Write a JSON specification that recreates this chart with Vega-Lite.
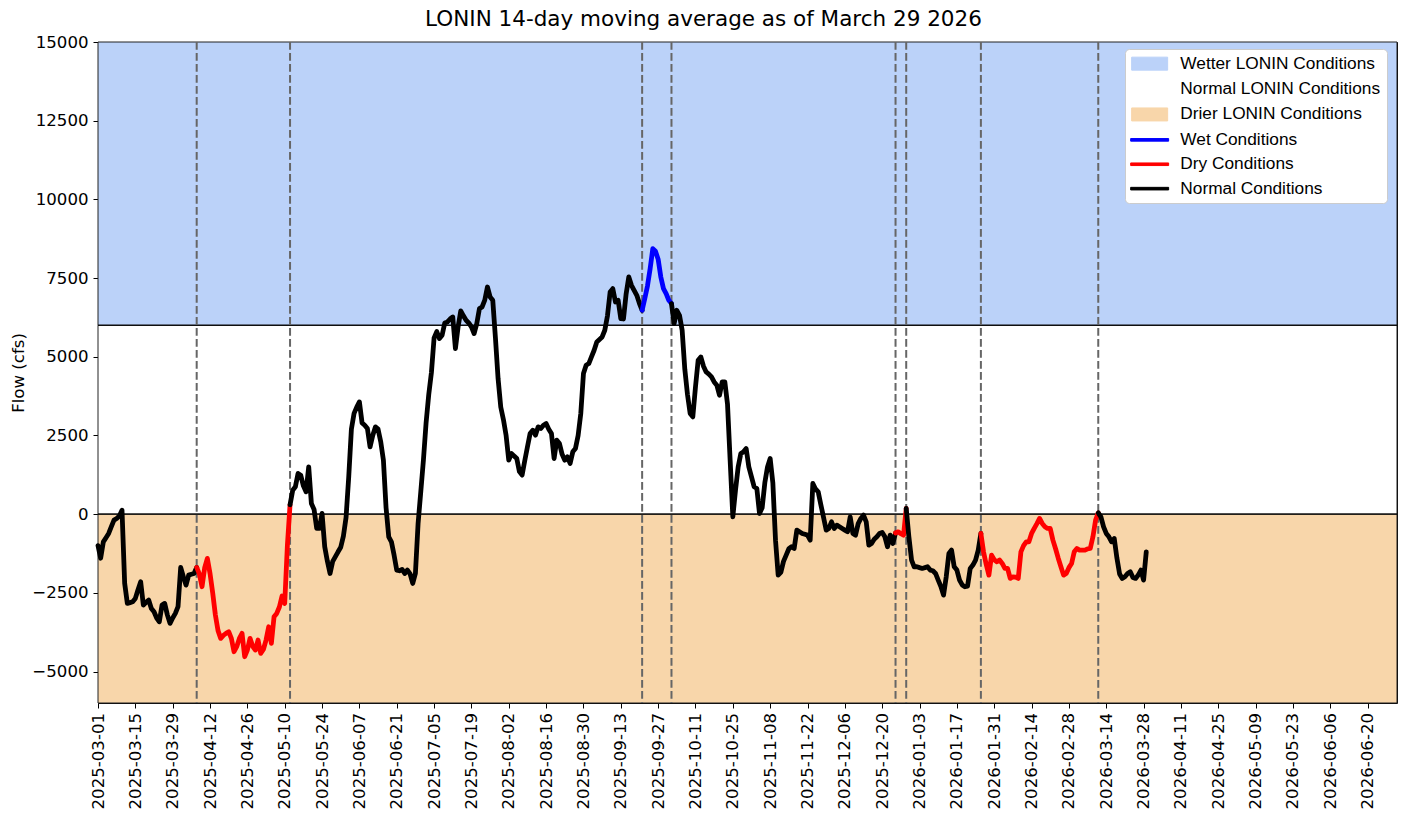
{
  "$schema": "https://vega.github.io/schema/vega-lite/v6.json",
  "width": 1299,
  "height": 661,
  "autosize": {"type": "none"},
  "padding": {"left": 98, "top": 42, "right": 6, "bottom": 112},
  "background": "white",
  "title": {"text": "LONIN 14-day moving average as of March 29 2026", "font": "DejaVu Sans", "fontSize": 21.5, "fontWeight": "normal", "color": "black", "anchor": "middle", "dx": -44, "offset": 4},
  "datasets": {
    "bands": [
      {"label": "Wetter LONIN Conditions", "lo": 6000, "hi": 15000},
      {"label": "Normal LONIN Conditions", "lo": 0, "hi": 6000},
      {"label": "Drier LONIN Conditions", "lo": -6000, "hi": 0}
    ],
    "hlines": [{"y": 0}, {"y": 6000}],
    "vlines": [
      {"date": "2025-04-07"}, {"date": "2025-05-12"}, {"date": "2025-09-21"}, {"date": "2025-10-02"},
      {"date": "2025-12-25"}, {"date": "2025-12-29"}, {"date": "2026-01-26"}, {"date": "2026-03-11"}
    ],
    "segs": [
      {"s": "a", "cond": "Normal Conditions"}, {"s": "b", "cond": "Dry Conditions"}, {"s": "c", "cond": "Normal Conditions"},
      {"s": "d", "cond": "Wet Conditions"}, {"s": "e", "cond": "Normal Conditions"}, {"s": "f", "cond": "Dry Conditions"},
      {"s": "g", "cond": "Normal Conditions"}, {"s": "h", "cond": "Dry Conditions"}, {"s": "i", "cond": "Normal Conditions"}
    ],
    "flow": [
      {"date":"2025-03-01","flow":-1000,"s":"a"},{"date":"2025-03-02","flow":-1400,"s":"a"},{"date":"2025-03-03","flow":-880,"s":"a"},{"date":"2025-03-04","flow":-750,"s":"a"},{"date":"2025-03-05","flow":-614,"s":"a"},{"date":"2025-03-06","flow":-400,"s":"a"},{"date":"2025-03-07","flow":-190,"s":"a"},{"date":"2025-03-08","flow":-137,"s":"a"},{"date":"2025-03-09","flow":-60,"s":"a"},{"date":"2025-03-10","flow":127,"s":"a"},{"date":"2025-03-11","flow":-2200,"s":"a"},{"date":"2025-03-12","flow":-2836,"s":"a"},{"date":"2025-03-13","flow":-2810,"s":"a"},{"date":"2025-03-14","flow":-2783,"s":"a"},{"date":"2025-03-15","flow":-2677,"s":"a"},{"date":"2025-03-16","flow":-2400,"s":"a"},{"date":"2025-03-17","flow":-2148,"s":"a"},{"date":"2025-03-18","flow":-2889,"s":"a"},{"date":"2025-03-19","flow":-2800,"s":"a"},{"date":"2025-03-20","flow":-2730,"s":"a"},{"date":"2025-03-21","flow":-2995,"s":"a"},{"date":"2025-03-22","flow":-3100,"s":"a"},{"date":"2025-03-23","flow":-3300,"s":"a"},{"date":"2025-03-24","flow":-3418,"s":"a"},{"date":"2025-03-25","flow":-2889,"s":"a"},{"date":"2025-03-26","flow":-2836,"s":"a"},{"date":"2025-03-27","flow":-3200,"s":"a"},{"date":"2025-03-28","flow":-3471,"s":"a"},{"date":"2025-03-29","flow":-3300,"s":"a"},{"date":"2025-03-30","flow":-3154,"s":"a"},{"date":"2025-03-31","flow":-2941,"s":"a"},{"date":"2025-04-01","flow":-1693,"s":"a"},{"date":"2025-04-02","flow":-1990,"s":"a"},{"date":"2025-04-03","flow":-2254,"s":"a"},{"date":"2025-04-04","flow":-1937,"s":"a"},{"date":"2025-04-05","flow":-1910,"s":"a"},{"date":"2025-04-06","flow":-1885,"s":"a"},{"date":"2025-04-07","flow":-1693,"s":"a"},
      {"date":"2025-04-07","flow":-1693,"s":"b"},{"date":"2025-04-08","flow":-1900,"s":"b"},{"date":"2025-04-09","flow":-2307,"s":"b"},{"date":"2025-04-10","flow":-1700,"s":"b"},{"date":"2025-04-11","flow":-1407,"s":"b"},{"date":"2025-04-12","flow":-1885,"s":"b"},{"date":"2025-04-13","flow":-2500,"s":"b"},{"date":"2025-04-14","flow":-3200,"s":"b"},{"date":"2025-04-15","flow":-3700,"s":"b"},{"date":"2025-04-16","flow":-3947,"s":"b"},{"date":"2025-04-17","flow":-3850,"s":"b"},{"date":"2025-04-18","flow":-3788,"s":"b"},{"date":"2025-04-19","flow":-3735,"s":"b"},{"date":"2025-04-20","flow":-3947,"s":"b"},{"date":"2025-04-21","flow":-4371,"s":"b"},{"date":"2025-04-22","flow":-4212,"s":"b"},{"date":"2025-04-23","flow":-3950,"s":"b"},{"date":"2025-04-24","flow":-3788,"s":"b"},{"date":"2025-04-25","flow":-4530,"s":"b"},{"date":"2025-04-26","flow":-4318,"s":"b"},{"date":"2025-04-27","flow":-3947,"s":"b"},{"date":"2025-04-28","flow":-4200,"s":"b"},{"date":"2025-04-29","flow":-4318,"s":"b"},{"date":"2025-04-30","flow":-4000,"s":"b"},{"date":"2025-05-01","flow":-4424,"s":"b"},{"date":"2025-05-02","flow":-4300,"s":"b"},{"date":"2025-05-03","flow":-4000,"s":"b"},{"date":"2025-05-04","flow":-3578,"s":"b"},{"date":"2025-05-05","flow":-4106,"s":"b"},{"date":"2025-05-06","flow":-3260,"s":"b"},{"date":"2025-05-07","flow":-3154,"s":"b"},{"date":"2025-05-08","flow":-2950,"s":"b"},{"date":"2025-05-09","flow":-2600,"s":"b"},{"date":"2025-05-10","flow":-2836,"s":"b"},{"date":"2025-05-11","flow":-1000,"s":"b"},{"date":"2025-05-12","flow":300,"s":"b"},
      {"date":"2025-05-12","flow":300,"s":"c"},{"date":"2025-05-13","flow":760,"s":"c"},{"date":"2025-05-14","flow":868,"s":"c"},{"date":"2025-05-15","flow":1292,"s":"c"},{"date":"2025-05-16","flow":1238,"s":"c"},{"date":"2025-05-17","flow":900,"s":"c"},{"date":"2025-05-18","flow":709,"s":"c"},{"date":"2025-05-19","flow":1503,"s":"c"},{"date":"2025-05-20","flow":339,"s":"c"},{"date":"2025-05-21","flow":150,"s":"c"},{"date":"2025-05-22","flow":-455,"s":"c"},{"date":"2025-05-23","flow":-455,"s":"c"},{"date":"2025-05-24","flow":21,"s":"c"},{"date":"2025-05-25","flow":-1037,"s":"c"},{"date":"2025-05-26","flow":-1500,"s":"c"},{"date":"2025-05-27","flow":-1885,"s":"c"},{"date":"2025-05-28","flow":-1500,"s":"c"},{"date":"2025-05-29","flow":-1350,"s":"c"},{"date":"2025-05-30","flow":-1196,"s":"c"},{"date":"2025-05-31","flow":-1050,"s":"c"},{"date":"2025-06-01","flow":-700,"s":"c"},{"date":"2025-06-02","flow":-100,"s":"c"},{"date":"2025-06-03","flow":1185,"s":"c"},{"date":"2025-06-04","flow":2700,"s":"c"},{"date":"2025-06-05","flow":3200,"s":"c"},{"date":"2025-06-06","flow":3400,"s":"c"},{"date":"2025-06-07","flow":3566,"s":"c"},{"date":"2025-06-08","flow":2900,"s":"c"},{"date":"2025-06-09","flow":2826,"s":"c"},{"date":"2025-06-10","flow":2720,"s":"c"},{"date":"2025-06-11","flow":2138,"s":"c"},{"date":"2025-06-12","flow":2500,"s":"c"},{"date":"2025-06-13","flow":2773,"s":"c"},{"date":"2025-06-14","flow":2700,"s":"c"},{"date":"2025-06-15","flow":2300,"s":"c"},{"date":"2025-06-16","flow":1715,"s":"c"},{"date":"2025-06-17","flow":200,"s":"c"},{"date":"2025-06-18","flow":-720,"s":"c"},{"date":"2025-06-19","flow":-879,"s":"c"},{"date":"2025-06-20","flow":-1300,"s":"c"},{"date":"2025-06-21","flow":-1778,"s":"c"},{"date":"2025-06-22","flow":-1800,"s":"c"},{"date":"2025-06-23","flow":-1757,"s":"c"},{"date":"2025-06-24","flow":-1885,"s":"c"},{"date":"2025-06-25","flow":-1778,"s":"c"},{"date":"2025-06-26","flow":-1900,"s":"c"},{"date":"2025-06-27","flow":-2201,"s":"c"},{"date":"2025-06-28","flow":-1885,"s":"c"},{"date":"2025-06-29","flow":-300,"s":"c"},{"date":"2025-06-30","flow":700,"s":"c"},{"date":"2025-07-01","flow":1715,"s":"c"},{"date":"2025-07-02","flow":2900,"s":"c"},{"date":"2025-07-03","flow":3800,"s":"c"},{"date":"2025-07-04","flow":4500,"s":"c"},{"date":"2025-07-05","flow":5600,"s":"c"},{"date":"2025-07-06","flow":5800,"s":"c"},{"date":"2025-07-07","flow":5577,"s":"c"},{"date":"2025-07-08","flow":5683,"s":"c"},{"date":"2025-07-09","flow":6074,"s":"c"},{"date":"2025-07-10","flow":6106,"s":"c"},{"date":"2025-07-11","flow":6200,"s":"c"},{"date":"2025-07-12","flow":6265,"s":"c"},{"date":"2025-07-13","flow":5260,"s":"c"},{"date":"2025-07-14","flow":5947,"s":"c"},{"date":"2025-07-15","flow":6455,"s":"c"},{"date":"2025-07-16","flow":6300,"s":"c"},{"date":"2025-07-17","flow":6159,"s":"c"},{"date":"2025-07-18","flow":6074,"s":"c"},{"date":"2025-07-19","flow":5947,"s":"c"},{"date":"2025-07-20","flow":5736,"s":"c"},{"date":"2025-07-21","flow":6053,"s":"c"},{"date":"2025-07-22","flow":6529,"s":"c"},{"date":"2025-07-23","flow":6582,"s":"c"},{"date":"2025-07-24","flow":6800,"s":"c"},{"date":"2025-07-25","flow":7217,"s":"c"},{"date":"2025-07-26","flow":6900,"s":"c"},{"date":"2025-07-27","flow":6795,"s":"c"},{"date":"2025-07-28","flow":5600,"s":"c"},{"date":"2025-07-29","flow":4300,"s":"c"},{"date":"2025-07-30","flow":3400,"s":"c"},{"date":"2025-07-31","flow":3000,"s":"c"},{"date":"2025-08-01","flow":2500,"s":"c"},{"date":"2025-08-02","flow":1715,"s":"c"},{"date":"2025-08-03","flow":1926,"s":"c"},{"date":"2025-08-04","flow":1850,"s":"c"},{"date":"2025-08-05","flow":1767,"s":"c"},{"date":"2025-08-06","flow":1350,"s":"c"},{"date":"2025-08-07","flow":1238,"s":"c"},{"date":"2025-08-08","flow":1700,"s":"c"},{"date":"2025-08-09","flow":2138,"s":"c"},{"date":"2025-08-10","flow":2561,"s":"c"},{"date":"2025-08-11","flow":2667,"s":"c"},{"date":"2025-08-12","flow":2508,"s":"c"},{"date":"2025-08-13","flow":2773,"s":"c"},{"date":"2025-08-14","flow":2720,"s":"c"},{"date":"2025-08-15","flow":2826,"s":"c"},{"date":"2025-08-16","flow":2879,"s":"c"},{"date":"2025-08-17","flow":2700,"s":"c"},{"date":"2025-08-18","flow":2561,"s":"c"},{"date":"2025-08-19","flow":1767,"s":"c"},{"date":"2025-08-20","flow":2350,"s":"c"},{"date":"2025-08-21","flow":2244,"s":"c"},{"date":"2025-08-22","flow":1900,"s":"c"},{"date":"2025-08-23","flow":1715,"s":"c"},{"date":"2025-08-24","flow":1820,"s":"c"},{"date":"2025-08-25","flow":1610,"s":"c"},{"date":"2025-08-26","flow":1979,"s":"c"},{"date":"2025-08-27","flow":2085,"s":"c"},{"date":"2025-08-28","flow":2500,"s":"c"},{"date":"2025-08-29","flow":3200,"s":"c"},{"date":"2025-08-30","flow":4467,"s":"c"},{"date":"2025-08-31","flow":4731,"s":"c"},{"date":"2025-09-01","flow":4784,"s":"c"},{"date":"2025-09-02","flow":5000,"s":"c"},{"date":"2025-09-03","flow":5207,"s":"c"},{"date":"2025-09-04","flow":5471,"s":"c"},{"date":"2025-09-05","flow":5550,"s":"c"},{"date":"2025-09-06","flow":5630,"s":"c"},{"date":"2025-09-07","flow":5842,"s":"c"},{"date":"2025-09-08","flow":6300,"s":"c"},{"date":"2025-09-09","flow":7058,"s":"c"},{"date":"2025-09-10","flow":7165,"s":"c"},{"date":"2025-09-11","flow":6741,"s":"c"},{"date":"2025-09-12","flow":6795,"s":"c"},{"date":"2025-09-13","flow":6213,"s":"c"},{"date":"2025-09-14","flow":6200,"s":"c"},{"date":"2025-09-15","flow":7000,"s":"c"},{"date":"2025-09-16","flow":7535,"s":"c"},{"date":"2025-09-17","flow":7271,"s":"c"},{"date":"2025-09-18","flow":7112,"s":"c"},{"date":"2025-09-19","flow":6953,"s":"c"},{"date":"2025-09-20","flow":6689,"s":"c"},{"date":"2025-09-21","flow":6477,"s":"c"},
      {"date":"2025-09-21","flow":6477,"s":"d"},{"date":"2025-09-22","flow":6850,"s":"d"},{"date":"2025-09-23","flow":7250,"s":"d"},{"date":"2025-09-24","flow":7800,"s":"d"},{"date":"2025-09-25","flow":8434,"s":"d"},{"date":"2025-09-26","flow":8350,"s":"d"},{"date":"2025-09-27","flow":8100,"s":"d"},{"date":"2025-09-28","flow":7535,"s":"d"},{"date":"2025-09-29","flow":7165,"s":"d"},{"date":"2025-09-30","flow":7006,"s":"d"},{"date":"2025-10-01","flow":6795,"s":"d"},{"date":"2025-10-02","flow":6689,"s":"d"},
      {"date":"2025-10-02","flow":6689,"s":"e"},{"date":"2025-10-03","flow":6053,"s":"e"},{"date":"2025-10-04","flow":6477,"s":"e"},{"date":"2025-10-05","flow":6318,"s":"e"},{"date":"2025-10-06","flow":5842,"s":"e"},{"date":"2025-10-07","flow":4600,"s":"e"},{"date":"2025-10-08","flow":3800,"s":"e"},{"date":"2025-10-09","flow":3197,"s":"e"},{"date":"2025-10-10","flow":3090,"s":"e"},{"date":"2025-10-11","flow":4043,"s":"e"},{"date":"2025-10-12","flow":4890,"s":"e"},{"date":"2025-10-13","flow":4995,"s":"e"},{"date":"2025-10-14","flow":4700,"s":"e"},{"date":"2025-10-15","flow":4518,"s":"e"},{"date":"2025-10-16","flow":4450,"s":"e"},{"date":"2025-10-17","flow":4360,"s":"e"},{"date":"2025-10-18","flow":4200,"s":"e"},{"date":"2025-10-19","flow":4096,"s":"e"},{"date":"2025-10-20","flow":3778,"s":"e"},{"date":"2025-10-21","flow":4201,"s":"e"},{"date":"2025-10-22","flow":4201,"s":"e"},{"date":"2025-10-23","flow":3500,"s":"e"},{"date":"2025-10-24","flow":1700,"s":"e"},{"date":"2025-10-25","flow":-85,"s":"e"},{"date":"2025-10-26","flow":762,"s":"e"},{"date":"2025-10-27","flow":1500,"s":"e"},{"date":"2025-10-28","flow":1926,"s":"e"},{"date":"2025-10-29","flow":1979,"s":"e"},{"date":"2025-10-30","flow":2085,"s":"e"},{"date":"2025-10-31","flow":1500,"s":"e"},{"date":"2025-11-01","flow":1185,"s":"e"},{"date":"2025-11-02","flow":868,"s":"e"},{"date":"2025-11-03","flow":815,"s":"e"},{"date":"2025-11-04","flow":21,"s":"e"},{"date":"2025-11-05","flow":200,"s":"e"},{"date":"2025-11-06","flow":1000,"s":"e"},{"date":"2025-11-07","flow":1500,"s":"e"},{"date":"2025-11-08","flow":1767,"s":"e"},{"date":"2025-11-09","flow":1000,"s":"e"},{"date":"2025-11-10","flow":-826,"s":"e"},{"date":"2025-11-11","flow":-1937,"s":"e"},{"date":"2025-11-12","flow":-1850,"s":"e"},{"date":"2025-11-13","flow":-1500,"s":"e"},{"date":"2025-11-14","flow":-1300,"s":"e"},{"date":"2025-11-15","flow":-1100,"s":"e"},{"date":"2025-11-16","flow":-1037,"s":"e"},{"date":"2025-11-17","flow":-1090,"s":"e"},{"date":"2025-11-18","flow":-508,"s":"e"},{"date":"2025-11-19","flow":-560,"s":"e"},{"date":"2025-11-20","flow":-614,"s":"e"},{"date":"2025-11-21","flow":-640,"s":"e"},{"date":"2025-11-22","flow":-667,"s":"e"},{"date":"2025-11-23","flow":-826,"s":"e"},{"date":"2025-11-24","flow":974,"s":"e"},{"date":"2025-11-25","flow":800,"s":"e"},{"date":"2025-11-26","flow":709,"s":"e"},{"date":"2025-11-27","flow":300,"s":"e"},{"date":"2025-11-28","flow":-100,"s":"e"},{"date":"2025-11-29","flow":-508,"s":"e"},{"date":"2025-11-30","flow":-455,"s":"e"},{"date":"2025-12-01","flow":-243,"s":"e"},{"date":"2025-12-02","flow":-455,"s":"e"},{"date":"2025-12-03","flow":-349,"s":"e"},{"date":"2025-12-04","flow":-400,"s":"e"},{"date":"2025-12-05","flow":-455,"s":"e"},{"date":"2025-12-06","flow":-508,"s":"e"},{"date":"2025-12-07","flow":-561,"s":"e"},{"date":"2025-12-08","flow":-85,"s":"e"},{"date":"2025-12-09","flow":-614,"s":"e"},{"date":"2025-12-10","flow":-667,"s":"e"},{"date":"2025-12-11","flow":-300,"s":"e"},{"date":"2025-12-12","flow":-137,"s":"e"},{"date":"2025-12-13","flow":-32,"s":"e"},{"date":"2025-12-14","flow":-243,"s":"e"},{"date":"2025-12-15","flow":-984,"s":"e"},{"date":"2025-12-16","flow":-932,"s":"e"},{"date":"2025-12-17","flow":-800,"s":"e"},{"date":"2025-12-18","flow":-720,"s":"e"},{"date":"2025-12-19","flow":-614,"s":"e"},{"date":"2025-12-20","flow":-580,"s":"e"},{"date":"2025-12-21","flow":-720,"s":"e"},{"date":"2025-12-22","flow":-1037,"s":"e"},{"date":"2025-12-23","flow":-667,"s":"e"},{"date":"2025-12-24","flow":-932,"s":"e"},{"date":"2025-12-25","flow":-600,"s":"e"},
      {"date":"2025-12-25","flow":-600,"s":"f"},{"date":"2025-12-26","flow":-561,"s":"f"},{"date":"2025-12-27","flow":-620,"s":"f"},{"date":"2025-12-28","flow":-667,"s":"f"},{"date":"2025-12-29","flow":180,"s":"f"},
      {"date":"2025-12-29","flow":180,"s":"g"},{"date":"2025-12-30","flow":-720,"s":"g"},{"date":"2025-12-31","flow":-1460,"s":"g"},{"date":"2026-01-01","flow":-1672,"s":"g"},{"date":"2026-01-02","flow":-1672,"s":"g"},{"date":"2026-01-03","flow":-1700,"s":"g"},{"date":"2026-01-04","flow":-1725,"s":"g"},{"date":"2026-01-05","flow":-1700,"s":"g"},{"date":"2026-01-06","flow":-1672,"s":"g"},{"date":"2026-01-07","flow":-1778,"s":"g"},{"date":"2026-01-08","flow":-1800,"s":"g"},{"date":"2026-01-09","flow":-1885,"s":"g"},{"date":"2026-01-10","flow":-2096,"s":"g"},{"date":"2026-01-11","flow":-2300,"s":"g"},{"date":"2026-01-12","flow":-2572,"s":"g"},{"date":"2026-01-13","flow":-1990,"s":"g"},{"date":"2026-01-14","flow":-1249,"s":"g"},{"date":"2026-01-15","flow":-1143,"s":"g"},{"date":"2026-01-16","flow":-1672,"s":"g"},{"date":"2026-01-17","flow":-1778,"s":"g"},{"date":"2026-01-18","flow":-2096,"s":"g"},{"date":"2026-01-19","flow":-2250,"s":"g"},{"date":"2026-01-20","flow":-2307,"s":"g"},{"date":"2026-01-21","flow":-2286,"s":"g"},{"date":"2026-01-22","flow":-1725,"s":"g"},{"date":"2026-01-23","flow":-1619,"s":"g"},{"date":"2026-01-24","flow":-1460,"s":"g"},{"date":"2026-01-25","flow":-1143,"s":"g"},{"date":"2026-01-26","flow":-614,"s":"g"},
      {"date":"2026-01-26","flow":-614,"s":"h"},{"date":"2026-01-27","flow":-1200,"s":"h"},{"date":"2026-01-28","flow":-1600,"s":"h"},{"date":"2026-01-29","flow":-1937,"s":"h"},{"date":"2026-01-30","flow":-1302,"s":"h"},{"date":"2026-01-31","flow":-1450,"s":"h"},{"date":"2026-02-01","flow":-1514,"s":"h"},{"date":"2026-02-02","flow":-1460,"s":"h"},{"date":"2026-02-03","flow":-1566,"s":"h"},{"date":"2026-02-04","flow":-1725,"s":"h"},{"date":"2026-02-05","flow":-1725,"s":"h"},{"date":"2026-02-06","flow":-2042,"s":"h"},{"date":"2026-02-07","flow":-1990,"s":"h"},{"date":"2026-02-08","flow":-2000,"s":"h"},{"date":"2026-02-09","flow":-2042,"s":"h"},{"date":"2026-02-10","flow":-1200,"s":"h"},{"date":"2026-02-11","flow":-1000,"s":"h"},{"date":"2026-02-12","flow":-879,"s":"h"},{"date":"2026-02-13","flow":-879,"s":"h"},{"date":"2026-02-14","flow":-614,"s":"h"},{"date":"2026-02-15","flow":-450,"s":"h"},{"date":"2026-02-16","flow":-300,"s":"h"},{"date":"2026-02-17","flow":-137,"s":"h"},{"date":"2026-02-18","flow":-296,"s":"h"},{"date":"2026-02-19","flow":-400,"s":"h"},{"date":"2026-02-20","flow":-455,"s":"h"},{"date":"2026-02-21","flow":-455,"s":"h"},{"date":"2026-02-22","flow":-826,"s":"h"},{"date":"2026-02-23","flow":-1100,"s":"h"},{"date":"2026-02-24","flow":-1400,"s":"h"},{"date":"2026-02-25","flow":-1672,"s":"h"},{"date":"2026-02-26","flow":-1937,"s":"h"},{"date":"2026-02-27","flow":-1885,"s":"h"},{"date":"2026-02-28","flow":-1700,"s":"h"},{"date":"2026-03-01","flow":-1566,"s":"h"},{"date":"2026-03-02","flow":-1196,"s":"h"},{"date":"2026-03-03","flow":-1090,"s":"h"},{"date":"2026-03-04","flow":-1143,"s":"h"},{"date":"2026-03-05","flow":-1143,"s":"h"},{"date":"2026-03-06","flow":-1143,"s":"h"},{"date":"2026-03-07","flow":-1100,"s":"h"},{"date":"2026-03-08","flow":-1090,"s":"h"},{"date":"2026-03-09","flow":-720,"s":"h"},{"date":"2026-03-10","flow":-190,"s":"h"},{"date":"2026-03-11","flow":40,"s":"h"},
      {"date":"2026-03-11","flow":40,"s":"i"},{"date":"2026-03-12","flow":-85,"s":"i"},{"date":"2026-03-13","flow":-402,"s":"i"},{"date":"2026-03-14","flow":-614,"s":"i"},{"date":"2026-03-15","flow":-720,"s":"i"},{"date":"2026-03-16","flow":-879,"s":"i"},{"date":"2026-03-17","flow":-773,"s":"i"},{"date":"2026-03-18","flow":-1400,"s":"i"},{"date":"2026-03-19","flow":-1900,"s":"i"},{"date":"2026-03-20","flow":-2042,"s":"i"},{"date":"2026-03-21","flow":-1990,"s":"i"},{"date":"2026-03-22","flow":-1885,"s":"i"},{"date":"2026-03-23","flow":-1831,"s":"i"},{"date":"2026-03-24","flow":-2011,"s":"i"},{"date":"2026-03-25","flow":-2042,"s":"i"},{"date":"2026-03-26","flow":-1937,"s":"i"},{"date":"2026-03-27","flow":-1778,"s":"i"},{"date":"2026-03-28","flow":-2096,"s":"i"},{"date":"2026-03-29","flow":-1196,"s":"i"}
    ]
  },
  "layer": [
    {
      "data": {"name": "bands"},
      "mark": {"type": "rect", "stroke": {"expr": "datum.value == 'Wet Conditions' ? '#0000ff' : datum.value == 'Dry Conditions' ? '#ff0000' : datum.value == 'Normal Conditions' ? '#000000' : '#222222'"}, "strokeWidth": 1},
      "encoding": {
        "y": {"field": "lo", "type": "quantitative", "scale": {"domain": [-6000, 15000], "nice": false, "zero": false}, "title": "Flow (cfs)"},
        "y2": {"field": "hi"},
        "color": {
          "field": "label", "type": "nominal",
          "scale": {
            "domain": ["Wetter LONIN Conditions", "Normal LONIN Conditions", "Drier LONIN Conditions", "Wet Conditions", "Dry Conditions", "Normal Conditions"],
            "range": ["#bbd2f9", "#ffffff", "#f8d6aa", "#0000ff", "#ff0000", "#000000"]
          },
          "legend": {
            "title": null,
            "orient": "none",
            "legendX": 1027,
            "legendY": 7,
            "padding": 6,
            "fillColor": "white",
            "strokeColor": "#cccccc",
            "cornerRadius": 4,
            "labelFont": "Liberation Sans",
            "labelFontSize": 17.3,
            "labelColor": "black",
            "labelLimit": 400,
            "symbolSize": 169,
            "symbolOffset": 10,
            "labelOffset": 22,
            "rowPadding": 6.4,
            "symbolType": {"expr": "indexof(datum.value, 'LONIN') >= 0 ? 'M-2.77,-1H2.77V1H-2.77Z' : 'M-2.92,-0.2H2.92V0.2H-2.92Z'"},
            "symbolStrokeColor": {"expr": "datum.value == 'Wet Conditions' ? '#0000ff' : datum.value == 'Dry Conditions' ? '#ff0000' : datum.value == 'Normal Conditions' ? '#000000' : '#222222'"},
            "symbolStrokeWidth": 1
          }
        }
      }
    },
    {
      "data": {"name": "hlines"},
      "mark": {"type": "rule", "color": "black", "strokeWidth": 1},
      "encoding": {"y": {"field": "y", "type": "quantitative"}}
    },
    {
      "data": {"name": "vlines"},
      "mark": {"type": "rule", "color": "#666666", "strokeWidth": 2, "strokeDash": [7.7, 3.3]},
      "encoding": {"x": {"field": "date", "type": "temporal", "scale": {"type": "utc", "domain": [1740787200000, 1782864000000]}, "title": null}}
    },
    {
      "data": {"name": "flow"},
      "transform": [{"lookup": "s", "from": {"data": {"name": "segs"}, "key": "s", "fields": ["cond"]}, "as": ["label"]}],
      "mark": {"type": "line", "strokeWidth": 4.8, "strokeJoin": "round", "strokeCap": "round"},
      "encoding": {
        "x": {
          "field": "date", "type": "temporal", "title": null,
          "scale": {"type": "utc", "domain": [1740787200000, 1782864000000]},
          "axis": {
            "format": "%Y-%m-%d", "labelAngle": 270, "labelPadding": 4.5, "labelOverlap": false, "labelFlush": false, "tickCount": 60,
            "values": [1740787200000, 1741996800000, 1743206400000, 1744416000000, 1745625600000, 1746835200000, 1748044800000, 1749254400000, 1750464000000, 1751673600000, 1752883200000, 1754092800000, 1755302400000, 1756512000000, 1757721600000, 1758931200000, 1760140800000, 1761350400000, 1762560000000, 1763769600000, 1764979200000, 1766188800000, 1767398400000, 1768608000000, 1769817600000, 1771027200000, 1772236800000, 1773446400000, 1774656000000, 1775865600000, 1777075200000, 1778284800000, 1779494400000, 1780704000000, 1781913600000]
          }
        },
        "y": {
          "field": "flow", "type": "quantitative", "title": "Flow (cfs)",
          "scale": {"domain": [-6000, 15000], "nice": false, "zero": false},
          "axis": {"values": [-5000, -2500, 0, 2500, 5000, 7500, 10000, 12500, 15000], "format": "d", "labelPadding": 5, "titleX": -80, "titleY": 330.5, "titleAlign": "center", "titleBaseline": "middle", "titleAngle": 270}
        },
        "color": {"field": "label", "type": "nominal", "legend": null},
        "detail": {"field": "s", "type": "nominal"}
      }
    }
  ],
  "config": {
    "font": "DejaVu Sans",
    "view": {"stroke": "black", "strokeWidth": 1},
    "axis": {
      "grid": false, "domain": false,
      "labelFont": "DejaVu Sans", "labelFontSize": 16.6, "labelColor": "black",
      "tickColor": "black", "tickSize": 5, "tickWidth": 1,
      "titleFont": "DejaVu Sans", "titleFontSize": 16.6, "titleFontWeight": "normal", "titleColor": "black",
      "labelOverlap": false, "labelFlush": false
    }
  }
}
